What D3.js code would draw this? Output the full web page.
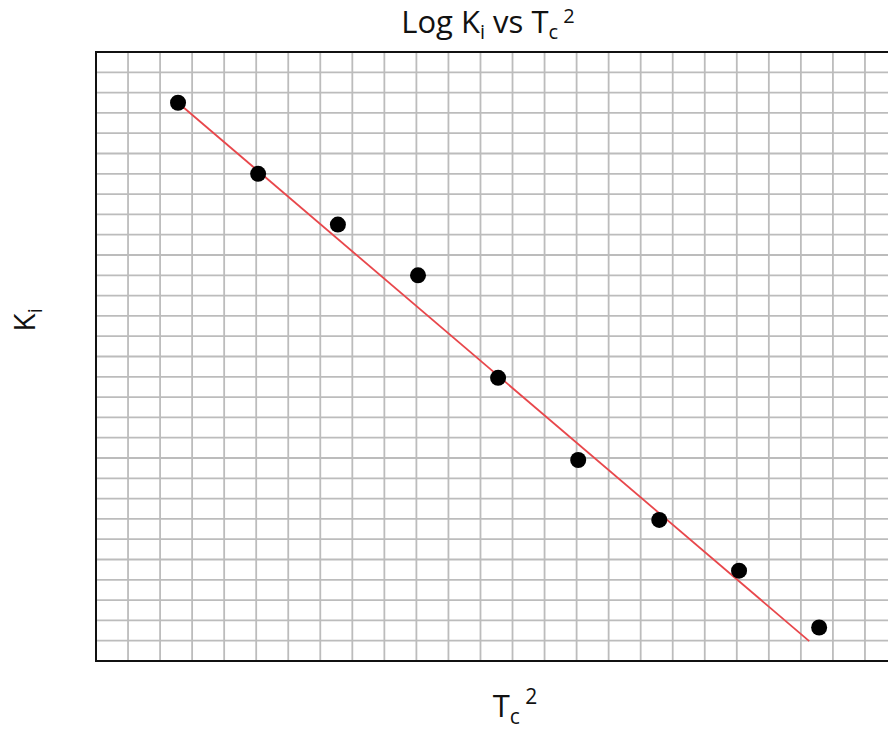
<!DOCTYPE html>
<html>
<head>
<meta charset="utf-8">
<script src="https://cdn.jsdelivr.net/npm/d3@7"></script>
<style>
  html, body { margin: 0; padding: 0; background: #fff; }
  svg { display: block; font-family: "Open Sans", "Noto Sans", sans-serif; }
</style>
</head>
<body>
<svg id="chart" width="888" height="729"></svg>
<script>
// values read in grid units (one unit = one grid cell)
const tc2 = [2.56, 5.06, 7.55, 10.05, 12.55, 15.05, 17.58, 20.07, 22.57];
const logKi = [27.5, 24.0, 21.5, 19.0, 13.95, 9.9, 6.95, 4.45, 1.65];
// fitted line end points
const fitX = [2.56, 22.26];
const fitY = [27.5, 0.98];

const gridCols = 25, gridRows = 30;

const svg = d3.select('#chart');
const margin = { top: 52, left: 96 };
const innerWidth = 801, innerHeight = 609;

const xScale = d3.scaleLinear().domain([0, gridCols]).range([0, innerWidth]);
const yScale = d3.scaleLinear().domain([0, gridRows]).range([innerHeight, 0]);

const g = svg.append('g')
  .attr('transform', `translate(${margin.left}, ${margin.top})`);

// grid
g.append('g')
  .selectAll('line')
  .data(d3.range(1, gridCols))
  .join('line')
  .attr('x1', d => xScale(d)).attr('x2', d => xScale(d))
  .attr('y1', 0).attr('y2', innerHeight)
  .attr('stroke', '#bcbcbc')
  .attr('stroke-width', 1.8);

g.append('g')
  .selectAll('line')
  .data(d3.range(1, gridRows))
  .join('line')
  .attr('y1', d => yScale(d)).attr('y2', d => yScale(d))
  .attr('x1', 0).attr('x2', innerWidth)
  .attr('stroke', '#bcbcbc')
  .attr('stroke-width', 1.8);

// frame
g.append('rect')
  .attr('x', 0).attr('y', 0)
  .attr('width', innerWidth).attr('height', innerHeight)
  .attr('fill', 'none')
  .attr('stroke', '#111')
  .attr('stroke-width', 2);

// trend line
const line = d3.line().x(d => xScale(d[0])).y(d => yScale(d[1]));
g.append('path')
  .datum(d3.zip(fitX, fitY))
  .attr('d', line)
  .attr('fill', 'none')
  .attr('stroke', '#e8474b')
  .attr('stroke-width', 1.8);

// points
g.selectAll('circle')
  .data(d3.zip(tc2, logKi))
  .join('circle')
  .attr('cx', d => xScale(d[0]))
  .attr('cy', d => yScale(d[1]))
  .attr('r', 8)
  .attr('fill', '#000');

// title
const title = svg.append('text')
  .attr('x', 488).attr('y', 33)
  .attr('text-anchor', 'middle')
  .attr('font-size', 31)
  .attr('fill', '#111');
title.append('tspan').text('Log K');
title.append('tspan').attr('font-size', 20).attr('dy', 6).text('i');
title.append('tspan').attr('dy', -6).text(' vs T');
title.append('tspan').attr('font-size', 20).attr('dy', 6).text('c');
title.append('tspan').attr('font-size', 20).attr('dy', -16).text(' 2');

// x label
const xl = svg.append('text')
  .attr('x', 515).attr('y', 717)
  .attr('text-anchor', 'middle')
  .attr('font-size', 31)
  .attr('fill', '#111');
xl.append('tspan').text('T');
xl.append('tspan').attr('font-size', 21).attr('dy', 7).text('c');
xl.append('tspan').attr('font-size', 21).attr('dy', -20).text(' 2');

// y label
const yl = svg.append('text')
  .attr('transform', 'translate(35, 320) rotate(-90)')
  .attr('text-anchor', 'middle')
  .attr('font-size', 30)
  .attr('fill', '#111');
yl.append('tspan').text('K');
yl.append('tspan').attr('font-size', 20).attr('dy', 7).text('i');
</script>
</body>
</html>
